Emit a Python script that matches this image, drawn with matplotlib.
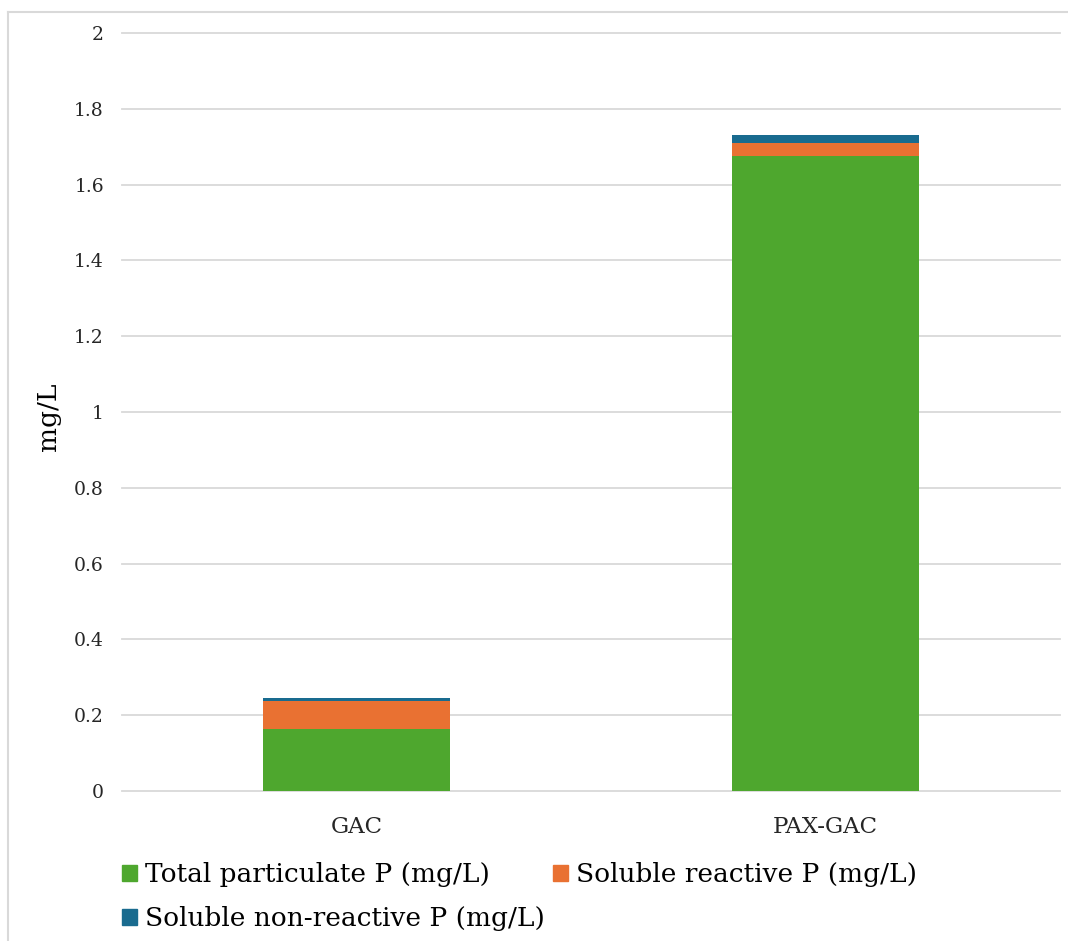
import matplotlib
matplotlib.use("Agg")
import matplotlib.pyplot as plt
from matplotlib.patches import Rectangle
from matplotlib.lines import Line2D

plt.rcParams['font.family'] = ['DejaVu Serif']

categories = ["GAC", "PAX-GAC"]
particulate = [0.164, 1.676]
soluble_reactive = [0.074, 0.034]
soluble_nonreactive = [0.008, 0.020]
series_names = ["Total particulate P (mg/L)", "Soluble reactive P (mg/L)",
                "Soluble non-reactive P (mg/L)"]
colors = ["#4EA72E", "#E97132", "#196B8F"]
yticks = [0, 0.2, 0.4, 0.6, 0.8, 1, 1.2, 1.4, 1.6, 1.8, 2]
ytick_labels = ["0", "0.2", "0.4", "0.6", "0.8", "1", "1.2", "1.4", "1.6", "1.8", "2"]

W, H = 1068, 941
fig = plt.figure(figsize=(W / 100, H / 100), dpi=100)
ax = fig.add_axes([122 / W, 1 - 791 / H, (1060 - 122) / W, (791 - 33) / H])

x = list(range(len(categories)))
bw = 0.4
bottom2 = [a + b for a, b in zip(particulate, soluble_reactive)]
ax.bar(x, particulate, bw, color=colors[0], label=series_names[0], zorder=3)
ax.bar(x, soluble_reactive, bw, bottom=particulate, color=colors[1],
       label=series_names[1], zorder=3)
ax.bar(x, soluble_nonreactive, bw, bottom=bottom2, color=colors[2],
       label=series_names[2], zorder=3)

ax.set_xlim(-0.5, 1.5)
ax.set_ylim(0, 2)
ax.set_yticks(yticks)
ax.set_yticklabels(ytick_labels, fontsize=13.5, color="#262626")
ax.set_xticks(x)
ax.set_xticklabels(categories, fontsize=16.5, color="#262626")
ax.tick_params(axis="both", length=0)
ax.tick_params(axis="y", pad=13)
ax.tick_params(axis="x", pad=18)
ax.yaxis.grid(True, color="#D9D9D9", linewidth=1.3, zorder=0)
for gl in ax.get_ygridlines():
    gl.set_clip_on(False)
for s in ax.spines.values():
    s.set_visible(False)

fig.text(49 / W, 1 - 417 / H, "mg/L", rotation=90, ha="center", va="center",
         fontsize=19, color="#000000")

# frame lines along the top and left of the chart area
fig.add_artist(Line2D([8 / W, 1.0], [1 - 12 / H, 1 - 12 / H],
                      transform=fig.transFigure, color="#D9D9D9", linewidth=1.5))
fig.add_artist(Line2D([8 / W, 8 / W], [0, 1 - 12 / H],
                      transform=fig.transFigure, color="#D9D9D9", linewidth=1.5))

handles = [Rectangle((0, 0), 1, 1, color=c) for c in colors]
order = [0, 2, 1]
fig.legend([handles[i] for i in order], [series_names[i] for i in order],
           ncol=2, loc="upper left", bbox_to_anchor=(122 / W, 1 - 862 / H),
           frameon=False, fontsize=19, handlelength=0.57, handleheight=0.57,
           handletextpad=0.3, columnspacing=0.3, labelspacing=0.72,
           borderpad=0, borderaxespad=0)

fig.savefig("out.png", dpi=100, facecolor="white")
